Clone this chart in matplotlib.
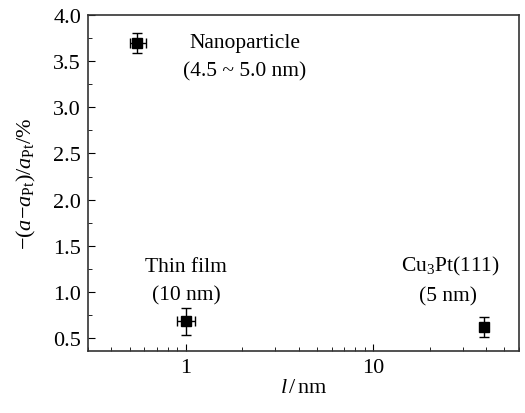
import matplotlib
matplotlib.use("Agg")
import matplotlib.pyplot as plt
from matplotlib.ticker import LogLocator, MultipleLocator, FixedLocator, FixedFormatter

plt.rcParams['font.family'] = ['Liberation Serif', 'DejaVu Serif']
plt.rcParams['mathtext.fontset'] = 'custom'
plt.rcParams['mathtext.rm'] = 'Liberation Serif'
plt.rcParams['mathtext.it'] = 'Liberation Serif:italic'
plt.rcParams['font.size'] = 16

# data
samples = ["Nanoparticle", "Thin film", "Cu3Pt(111)"]
length = [0.55, 1.0, 39.0]
length_err_lo = [0.05, 0.105, 0.0]
length_err_hi = [0.06, 0.115, 0.0]
strain = [3.70, 0.68, 0.62]
strain_err = [0.11, 0.145, 0.11]

fig = plt.figure(figsize=(5.25, 4.14), dpi=100)
ax = fig.add_axes([0.1676, 0.1498, 0.821, 0.8116])

ax.errorbar(length, strain, yerr=strain_err, xerr=[length_err_lo, length_err_hi],
            fmt='s', color='black', ms=6.5, capsize=3.5, elinewidth=1, capthick=1)

ax.set_xscale('log')
ax.set_xlim(0.3, 60)
ax.set_ylim(0.36, 4.0)

ax.xaxis.set_major_locator(FixedLocator([1, 10]))
ax.xaxis.set_major_formatter(FixedFormatter(['1', '10']))
ax.xaxis.set_minor_locator(LogLocator(base=10, subs=range(2, 10)))
ax.xaxis.set_minor_formatter(FixedFormatter([]))
ax.yaxis.set_major_locator(MultipleLocator(0.5))
ax.yaxis.set_minor_locator(MultipleLocator(0.25))
ax.yaxis.set_major_formatter(matplotlib.ticker.FormatStrFormatter('%.1f'))

ax.tick_params(which='both', direction='in', top=False, right=False, labelsize=16)
ax.tick_params(which='major', length=5, pad=5)
ax.tick_params(which='minor', length=3)
for s in ax.spines.values():
    s.set_linewidth(1.2)
    s.set_color('#333333')

ax.set_xlabel(r'$l\,/\,\mathrm{nm}$', fontsize=16, labelpad=1)
ax.set_ylabel(r'$\mathrm{-(}a\mathrm{-}a_{\mathrm{Pt}}\mathrm{)/}a_{\mathrm{Pt}}\mathrm{/\%}$', fontsize=16, labelpad=11)

ax.text(2.07, 3.70, 'Nanoparticle', ha='center', va='center', fontsize=15.5)
ax.text(2.07, 3.39, '(4.5 ~ 5.0 nm)', ha='center', va='center', fontsize=15.5)
ax.text(1.0, 1.28, 'Thin film', ha='center', va='center', fontsize=15.5)
ax.text(1.0, 0.97, '(10 nm)', ha='center', va='center', fontsize=15.5)
ax.text(25.8, 1.29, r'Cu$_{3}$Pt(111)', ha='center', va='center', fontsize=15.5)
ax.text(25.0, 0.955, '(5 nm)', ha='center', va='center', fontsize=15.5)

fig.savefig('out.png', dpi=100)
